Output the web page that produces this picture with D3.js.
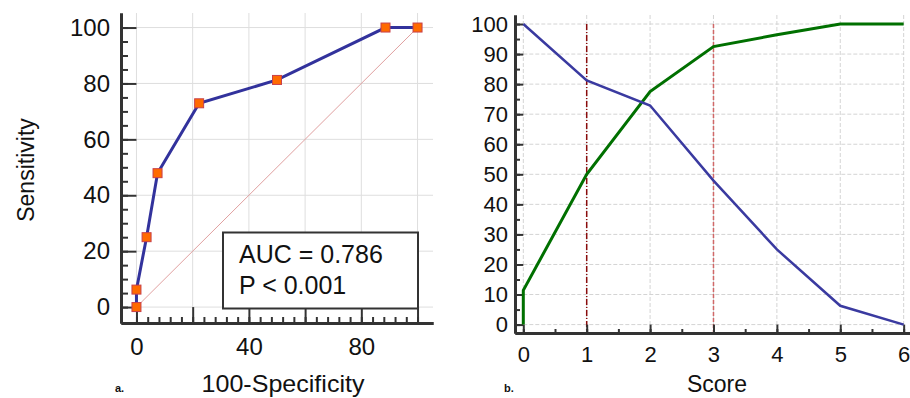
<!DOCTYPE html>
<html>
<head>
<meta charset="utf-8">
<script src="https://cdn.jsdelivr.net/npm/d3@7"></script>
<style>
  body { margin: 0; background: #fff; }
  text { font-family: "Liberation Sans", Arial, sans-serif; fill: #111; }
</style>
</head>
<body>
<div id="chart"></div>
<script>
// ROC curve (panel a)
const rocFpr = [0, 0, 3.6, 7.5, 22.3, 50, 88.6, 100];
const rocTpr = [0, 6.25, 25, 47.9, 72.9, 81.25, 100, 100];
const rocXTicks = [0, 40, 80];
const rocYTicks = [0, 20, 40, 60, 80, 100];
const aucLines = ['AUC = 0.786', 'P < 0.001'];

// Sensitivity / specificity vs score (panel b)
const sensScores = [0, 1, 2, 3, 4, 5, 6];
const sensitivity = [100, 81.25, 72.9, 47.9, 25, 6.25, 0];
const specScores = [0, 0, 1, 2, 3, 4, 5, 6];
const specificity = [0, 11.4, 50, 77.5, 92.5, 96.4, 100, 100];
const cutoffs = [1, 3];
const scoreTicks = [0, 1, 2, 3, 4, 5, 6];
const pctTicks = [0, 10, 20, 30, 40, 50, 60, 70, 80, 90, 100];

const svg = d3.select('#chart').append('svg')
  .attr('width', 910)
  .attr('height', 398);

const axisColor = '#333';
const gridColor = '#dedede';

function styleAxis(g, size) {
  g.select('.domain').attr('stroke', axisColor).attr('stroke-width', 3);
  g.selectAll('.tick line').attr('stroke', axisColor).attr('stroke-width', 2);
  g.selectAll('.tick text').style('font-size', (size || 22) + 'px').attr('fill', '#111');
}

// ---------- Panel a ----------
const xA = d3.scaleLinear().domain([-5.5, 105.5]).range([121, 433]);
const yA = d3.scaleLinear().domain([-5.7, 105.2]).range([323, 13]);
const a = svg.append('g');

// grid
a.selectAll('.vgrid').data(d3.range(0, 101, 20)).enter().append('line')
  .attr('x1', d => xA(d)).attr('x2', d => xA(d))
  .attr('y1', yA(105.2)).attr('y2', yA(0))
  .attr('stroke', gridColor).attr('stroke-width', 1);
a.selectAll('.hgrid').data(rocYTicks).enter().append('line')
  .attr('x1', xA(0)).attr('x2', xA(105.5))
  .attr('y1', d => yA(d)).attr('y2', d => yA(d))
  .attr('stroke', gridColor).attr('stroke-width', 1);

// diagonal reference
a.append('line')
  .attr('x1', xA(0)).attr('y1', yA(0))
  .attr('x2', xA(100)).attr('y2', yA(100))
  .attr('stroke', '#e0a0a0').attr('stroke-width', 1);

// minor ticks
a.append('g').attr('transform', `translate(${xA(-5.5)},0)`)
  .call(d3.axisLeft(yA).tickValues(d3.range(0, 101, 5)).tickSize(-7).tickFormat('').tickSizeOuter(0))
  .call(styleAxis);
a.append('g').attr('transform', `translate(0,${yA(-5.7)})`)
  .call(d3.axisBottom(xA).tickValues(d3.range(0, 101, 4)).tickSize(-6).tickFormat('').tickSizeOuter(0))
  .call(styleAxis);

// major axes
a.append('g').attr('transform', `translate(${xA(-5.5)},0)`)
  .call(d3.axisLeft(yA).tickValues(rocYTicks).tickSize(-(xA(0) - xA(-5.5))).tickPadding(11).tickSizeOuter(0))
  .call(styleAxis, 24);
const xAxisA = a.append('g').attr('transform', `translate(0,${yA(-5.7)})`)
  .call(d3.axisBottom(xA).tickValues(d3.range(0, 101, 20)).tickSize(-(yA(-5.7) - yA(0))).tickSizeOuter(0)
    .tickFormat(d => rocXTicks.includes(d) ? d : ''))
  .call(styleAxis, 24);
xAxisA.selectAll('.tick text').attr('y', 32).attr('dy', 0);

// ROC line
const rocPts = rocFpr.map((x, i) => [x, rocTpr[i]]);
a.append('path')
  .datum(rocPts)
  .attr('fill', 'none')
  .attr('stroke', '#32329c')
  .attr('stroke-width', 3)
  .attr('d', d3.line().x(d => xA(d[0])).y(d => yA(d[1])));

a.selectAll('.marker').data(rocPts).enter().append('rect')
  .attr('x', d => xA(d[0]) - 4.5)
  .attr('y', d => yA(d[1]) - 4.5)
  .attr('width', 9).attr('height', 9)
  .attr('fill', '#ff6a00')
  .attr('stroke', '#c8404a').attr('stroke-width', 1);

// AUC box
a.append('rect')
  .attr('x', 223).attr('y', 232.5)
  .attr('width', 195).attr('height', 76)
  .attr('fill', '#fff').attr('stroke', '#333').attr('stroke-width', 2);
a.selectAll('.auc').data(aucLines).enter().append('text')
  .attr('x', 239).attr('y', (d, i) => 263 + i * 31)
  .style('font-size', '25px')
  .text(d => d);

// titles
svg.append('text')
  .attr('transform', 'translate(34,170) rotate(-90)')
  .attr('text-anchor', 'middle')
  .style('font-size', '23px')
  .text('Sensitivity');
svg.append('text')
  .attr('x', 283).attr('y', 392)
  .attr('text-anchor', 'middle')
  .attr('textLength', 163).attr('lengthAdjust', 'spacingAndGlyphs')
  .style('font-size', '24px')
  .text('100-Specificity');
svg.append('text')
  .attr('x', 115).attr('y', 392)
  .style('font-size', '11px').style('font-weight', 'bold')
  .text('a.');

// ---------- Panel b ----------
const xB = d3.scaleLinear().domain([-0.131, 6.1]).range([515, 910]);
const yB = d3.scaleLinear().domain([-2.8, 103]).range([333, 15]);
const b = svg.append('g');

b.selectAll('.vgrid').data(scoreTicks).enter().append('line')
  .attr('x1', d => xB(d)).attr('x2', d => xB(d))
  .attr('y1', yB(103)).attr('y2', yB(0))
  .attr('stroke', '#d4d4d4').attr('stroke-width', 1)
  .attr('stroke-dasharray', '4,2');
b.selectAll('.hgrid').data(pctTicks).enter().append('line')
  .attr('x1', xB(0)).attr('x2', xB(6))
  .attr('y1', d => yB(d)).attr('y2', d => yB(d))
  .attr('stroke', '#d4d4d4').attr('stroke-width', 1)
  .attr('stroke-dasharray', '4,2');

// cut-off markers
b.selectAll('.cut').data(cutoffs).enter().append('line')
  .attr('x1', d => xB(d)).attr('x2', d => xB(d))
  .attr('y1', yB(100)).attr('y2', yB(-2.8))
  .attr('stroke', (d, i) => i === 0 ? '#8a0c0c' : '#d06868')
  .attr('stroke-width', 1.5)
  .attr('stroke-dasharray', (d, i) => i === 0 ? '6,2,1,2' : '4,2');

// minor ticks
b.append('g').attr('transform', `translate(${xB(-0.131)},0)`)
  .call(d3.axisLeft(yB).tickValues(d3.range(0, 101, 5)).tickSize(-5).tickFormat('').tickSizeOuter(0))
  .call(styleAxis);
b.append('g').attr('transform', `translate(0,${yB(-2.8)})`)
  .call(d3.axisBottom(xB).tickValues(d3.range(0, 6.01, 0.5)).tickSize(-4).tickFormat('').tickSizeOuter(0))
  .call(styleAxis);

// major axes
b.append('g').attr('transform', `translate(${xB(-0.131)},0)`)
  .call(d3.axisLeft(yB).tickValues(pctTicks).tickSize(-(xB(0) - xB(-0.131))).tickPadding(7).tickSizeOuter(0))
  .call(styleAxis, 22);
const xAxisB = b.append('g').attr('transform', `translate(0,${yB(-2.8)})`)
  .call(d3.axisBottom(xB).tickValues(scoreTicks).tickFormat(d3.format('d'))
    .tickSize(-(yB(-2.8) - yB(0))).tickSizeOuter(0))
  .call(styleAxis, 22);
xAxisB.selectAll('.tick text').attr('y', 29).attr('dy', 0);

const lineB = d3.line().x(d => xB(d[0])).y(d => yB(d[1]));
b.append('path')
  .datum(specScores.map((x, i) => [x, specificity[i]]))
  .attr('fill', 'none').attr('stroke', '#007000').attr('stroke-width', 3)
  .attr('d', lineB);
b.append('path')
  .datum(sensScores.map((x, i) => [x, sensitivity[i]]))
  .attr('fill', 'none').attr('stroke', '#3a3aa0').attr('stroke-width', 2.5)
  .attr('d', lineB);

svg.append('text')
  .attr('x', 717).attr('y', 392)
  .attr('text-anchor', 'middle')
  .style('font-size', '23px')
  .text('Score');
svg.append('text')
  .attr('x', 504).attr('y', 392)
  .style('font-size', '11px').style('font-weight', 'bold')
  .text('b.');
</script>
</body>
</html>
